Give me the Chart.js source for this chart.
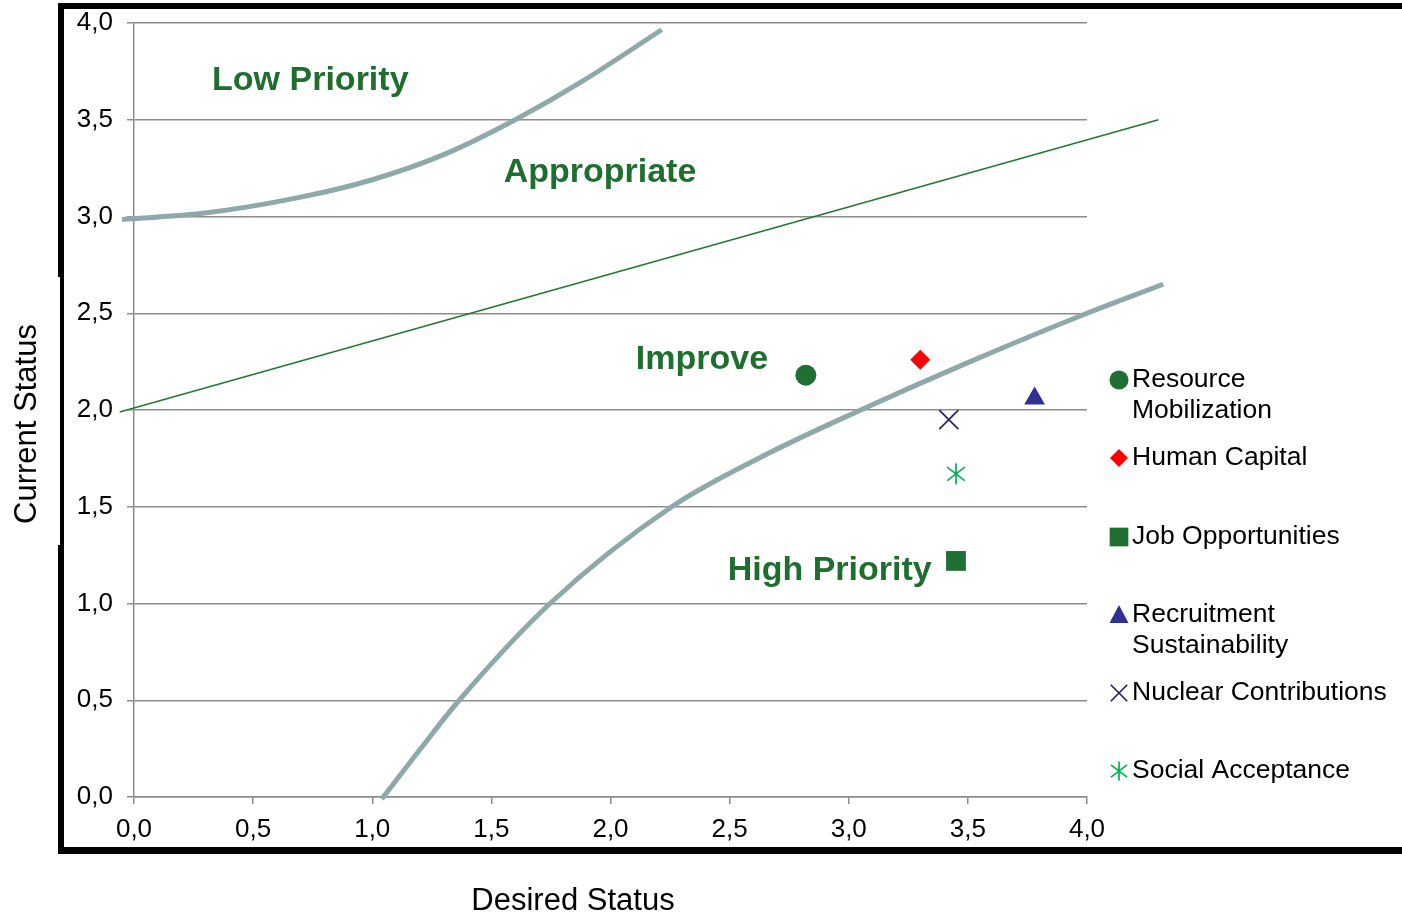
<!DOCTYPE html>
<html>
<head>
<meta charset="utf-8">
<title>Current vs Desired Status</title>
<script src="https://cdn.jsdelivr.net/npm/chart.js@4.4.1/dist/chart.umd.min.js"></script>
<style>
  body { margin: 0; background: #fff; }
  #wrap { width: 1402px; height: 915px; }
</style>
</head>
<body>
<div id="wrap"><canvas id="myChart" width="1402" height="915"></canvas></div>
<script>
// Measures (desired status on x, current status on y)
const categories = ['Resource Mobilization', 'Human Capital', 'Job Opportunities',
  'Recruitment Sustainability', 'Nuclear Contributions', 'Social Acceptance'];
const desiredStatus = [2.82, 3.30, 3.45, 3.78, 3.42, 3.45];
const currentStatus = [2.18, 2.26, 1.22, 2.06, 1.95, 1.67];

// Boundary lines, [desired, current]
const upperCurve = [[-0.05, 2.985], [0.28, 3.015], [0.7, 3.1], [1.0, 3.19], [1.31, 3.325],
  [1.6, 3.5], [1.87, 3.69], [2.215, 3.965]];
const middleLine = [[-0.06, 1.99], [4.3, 3.5]];
const lowerCurve = [[1.04, -0.01], [1.2, 0.245], [1.365, 0.5], [1.746, 1.0], [2.257, 1.5],
  [2.67, 1.78], [3.05, 2.0], [3.5, 2.245], [3.99, 2.495], [4.32, 2.65]];

// Axis tick labels (decimal comma)
const tickLabels = ['0,0', '0,5', '1,0', '1,5', '2,0', '2,5', '3,0', '3,5', '4,0'];

// Zone names
const zoneNames = ['Low Priority', 'Appropriate', 'Improve', 'High Priority'];

const FONT = "'Liberation Sans', Arial, sans-serif";
const markerStyles = ['circle', 'rectRot', 'rect', 'triangle', 'crossRot', 'star'];
const markerColors = ['#1f7032', '#ff0000', '#1f7032', '#2e3192', '#24245e', '#00b050'];
const markerRadius = [10.5, 10, 14, 12, 13.5, 10];
const curveColor = '#8fa9aa';
const gridColor = '#8c8c8c';

// small marker painter, used for the legend and the star glyph
function drawMarker(ctx, style, x, y, r, color) {
  ctx.save();
  ctx.fillStyle = color;
  ctx.strokeStyle = color;
  ctx.lineWidth = 1.7;
  ctx.beginPath();
  if (style === 'circle') {
    ctx.arc(x, y, r, 0, Math.PI * 2);
    ctx.fill();
  } else if (style === 'rectRot') {
    ctx.moveTo(x, y - r); ctx.lineTo(x + r, y); ctx.lineTo(x, y + r); ctx.lineTo(x - r, y);
    ctx.closePath(); ctx.fill();
  } else if (style === 'rect') {
    ctx.fillRect(x - r * 0.85, y - r * 0.85, r * 1.7, r * 1.7);
  } else if (style === 'triangle') {
    ctx.moveTo(x, y - r); ctx.lineTo(x + r * 0.95, y + r * 0.8); ctx.lineTo(x - r * 0.95, y + r * 0.8);
    ctx.closePath(); ctx.fill();
  } else if (style === 'crossRot') {
    ctx.moveTo(x - r * 0.75, y - r * 0.75); ctx.lineTo(x + r * 0.75, y + r * 0.75);
    ctx.moveTo(x + r * 0.75, y - r * 0.75); ctx.lineTo(x - r * 0.75, y + r * 0.75);
    ctx.stroke();
  } else if (style === 'star') {
    ctx.moveTo(x, y - r); ctx.lineTo(x, y + r);
    ctx.moveTo(x - r * 0.85, y - r * 0.65); ctx.lineTo(x + r * 0.85, y + r * 0.65);
    ctx.moveTo(x + r * 0.85, y - r * 0.65); ctx.lineTo(x - r * 0.85, y + r * 0.65);
    ctx.stroke();
  }
  ctx.restore();
}

// Excel-like asterisk (vertical bar + X) as an image point style
const starCanvas = document.createElement('canvas');
starCanvas.width = 24;
starCanvas.height = 24;
drawMarker(starCanvas.getContext('2d'), 'star', 12, 12, 10.5, '#00b050');

const pointSets = categories.map((name, i) => ({
  label: name,
  data: [{ x: desiredStatus[i], y: currentStatus[i] }],
  pointStyle: markerStyles[i] === 'star' ? starCanvas : markerStyles[i],
  pointRadius: markerRadius[i],
  pointBackgroundColor: markerColors[i],
  pointBorderColor: markerColors[i],
  pointBorderWidth: markerStyles[i] === 'crossRot' ? 1.7 : 0,
  showLine: false
}));

function lineSet(points, color, width) {
  return {
    label: '',
    data: points.map(p => ({ x: p[0], y: p[1] })),
    showLine: true,
    borderColor: color,
    borderWidth: width,
    pointRadius: 0,
    cubicInterpolationMode: 'monotone',
    clip: false
  };
}

// Frame, zone names, axis titles, legend
const decorations = {
  id: 'decorations',
  beforeDraw(chart) {
    const ctx = chart.ctx;
    ctx.save();
    ctx.fillStyle = '#000';
    ctx.fillRect(58, 3, 1360, 6);          // top
    ctx.fillRect(58, 847, 1360, 7);        // bottom
    ctx.fillRect(58, 3, 6, 274);           // left, upper
    ctx.fillRect(60, 277, 4, 268);         // left, thinner middle
    ctx.fillRect(58, 545, 6, 309);         // left, lower
    ctx.restore();
  },
  afterDraw(chart) {
    const ctx = chart.ctx;
    const xs = chart.scales.x, ys = chart.scales.y;
    ctx.save();

    // zone names
    const zonePos = [[0.74, 3.70], [1.956, 3.225], [2.384, 2.258], [2.92, 1.17]];
    ctx.fillStyle = '#1e6e2f';
    ctx.font = 'bold 34px ' + FONT;
    ctx.textAlign = 'center';
    ctx.textBaseline = 'middle';
    zoneNames.forEach((t, i) => {
      ctx.fillText(t, xs.getPixelForValue(zonePos[i][0]), ys.getPixelForValue(zonePos[i][1]));
    });

    // axis titles
    ctx.fillStyle = '#000';
    ctx.font = '31px ' + FONT;
    ctx.fillText('Desired Status', 573, 901);
    ctx.save();
    ctx.translate(27, 424);
    ctx.rotate(-Math.PI / 2);
    ctx.fillText('Current Status', 0, 0);
    ctx.restore();

    // legend
    const legendLines = [['Resource', 'Mobilization'], ['Human Capital'], ['Job Opportunities'],
      ['Recruitment', 'Sustainability'], ['Nuclear Contributions'], ['Social Acceptance']];
    const legendY = [380, 458, 537, 615, 693, 771];
    const legendR = [9.5, 9, 11, 10, 11, 9.5];
    ctx.font = '26.5px ' + FONT;
    ctx.textAlign = 'left';
    legendLines.forEach((lines, i) => {
      drawMarker(ctx, markerStyles[i], 1119, legendY[i], legendR[i], markerColors[i]);
      ctx.fillStyle = '#000';
      lines.forEach((ln, j) => ctx.fillText(ln, 1132, legendY[i] + j * 31));
    });
    ctx.restore();
  }
};

const tickFont = { family: FONT, size: 26 };

document.addEventListener('DOMContentLoaded', () => {
  const ctx = document.getElementById('myChart').getContext('2d');
  new Chart(ctx, {
    type: 'scatter',
    data: {
      datasets: [
        ...pointSets,
        lineSet(upperCurve, curveColor, 5),
        lineSet(middleLine, '#1f7a2e', 1.5),
        lineSet(lowerCurve, curveColor, 5)
      ]
    },
    options: {
      responsive: false,
      animation: false,
      layout: { padding: { top: 23, right: 315, bottom: 0, left: 0 } },
      plugins: {
        legend: { display: false },
        tooltip: { enabled: false }
      },
      scales: {
        x: {
          type: 'linear',
          min: 0,
          max: 4,
          ticks: {
            stepSize: 0.5,
            padding: 10,
            color: '#000',
            font: tickFont,
            maxRotation: 0,
            callback: v => tickLabels[Math.round(v * 2)]
          },
          grid: { drawOnChartArea: false, drawTicks: true, tickLength: 7, color: gridColor, lineWidth: 1.5 },
          border: { color: gridColor, width: 1.5 },
          afterFit(scale) { scale.height = 118; scale.paddingLeft = 0; scale.paddingRight = 0; }
        },
        y: {
          type: 'linear',
          min: 0,
          max: 4,
          ticks: {
            stepSize: 0.5,
            padding: 14,
            color: '#000',
            font: tickFont,
            callback: v => tickLabels[Math.round(v * 2)]
          },
          grid: { color: gridColor, lineWidth: 1.5, tickLength: 7 },
          border: { color: gridColor, width: 1.5 },
          afterFit(scale) { scale.width = 134; scale.paddingTop = 0; scale.paddingBottom = 0; }
        }
      }
    },
    plugins: [decorations]
  });
});
</script>
</body>
</html>
